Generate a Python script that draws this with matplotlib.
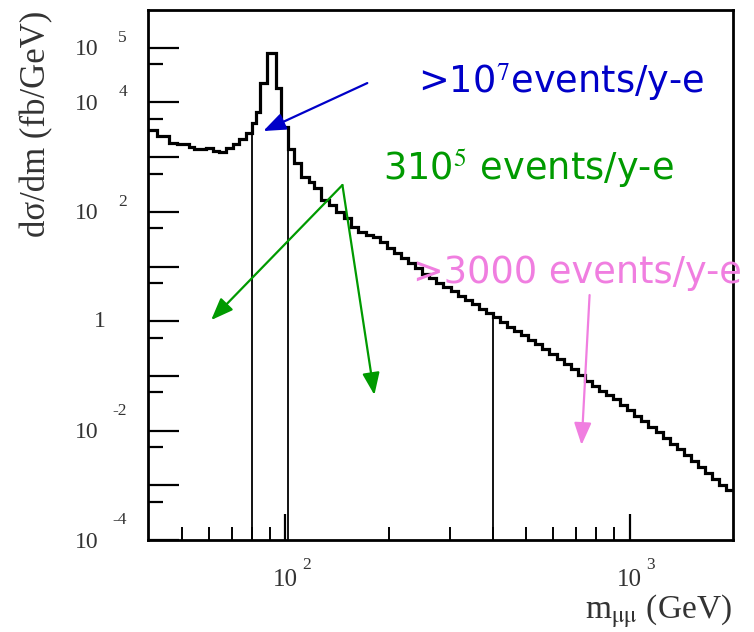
import matplotlib
matplotlib.use("Agg")
import matplotlib.pyplot as plt
from matplotlib import transforms

# mu+mu- invariant mass spectrum: bin edges in GeV, dsigma/dm in fb/GeV
mass_edges = [40.0, 42.5, 46.0, 48.6, 52.6, 54.4, 58.8, 61.5, 64.3, 67.2, 70.3, 73.5, 76.9,
              80.0, 82.2, 84.6, 88.2, 94.0, 97.2, 101.6, 106.2, 111.1, 117.4, 121.4, 127.0,
              134.3, 140.4, 148.4, 155.2, 162.3, 171.7, 179.4,
              188.1, 197.2, 206.7, 216.7, 227.2, 238.2, 249.8, 261.9, 274.5, 287.8, 301.8,
              316.4, 331.7, 347.8, 364.6, 382.2, 400.7, 420.1, 440.5, 461.8, 484.1, 507.6,
              532.1, 557.9, 584.9, 613.2, 642.9, 674.0, 706.6, 740.8, 776.7, 814.3, 853.7,
              895.0, 938.3, 983.7, 1031, 1081, 1134, 1189, 1246, 1307, 1370, 1436, 1506,
              1578, 1655, 1735, 1819, 1907, 2000]
dsigma_dm = [3127, 2432, 1788, 1736, 1530, 1389, 1448, 1309, 1224, 1448, 1736, 2142, 2793,
             4201, 6761, 22920, 81030, 18570, 3505, 1418, 770, 438, 355, 269, 164,
             133, 100, 76, 53.4, 43.3, 37.7,
             34.6, 28.0, 21.8, 17.7, 14.3, 11.6, 9.39, 7.29, 6.16, 4.99, 4.22, 3.56, 2.89,
             2.44, 2.06, 1.67, 1.41, 1.19, 0.967, 0.783, 0.662, 0.560, 0.453, 0.383,
             0.310, 0.251, 0.204, 0.165, 0.134, 0.104, 0.0807, 0.0654, 0.0530, 0.0448,
             0.0378, 0.0294, 0.0238, 0.0185, 0.0150, 0.0116, 0.00943, 0.00732, 0.00569,
             0.00461, 0.00358, 0.00278, 0.00216, 0.00168, 0.00130, 0.00101, 0.00082]

# mass cuts drawn as thin lines
cut_masses = [80.0, 101.6, 400.7]

# tick labels
y_label_vals = [1e5, 1e4, 1e2, 1, 1e-2, 1e-4]
y_label_exps = ["5", "4", "2", None, "-2", "-4"]
x_label_vals = [100, 1000]
x_label_exps = ["2", "3"]

# annotations: text, colour, arrow start, arrow tips
notes = [
    (r">10$^7$events/y-e", "#0000c8", (173.0, 2.26e4), [(86.3, 3.0e3)]),
    (r"310$^5$ events/y-e", "#009a00", (146.5, 309.0), [(60.9, 1.05), (181.4, 0.0448)]),
    (">3000 events/y-e", "#f07ee0", (765.0, 3.01), [(725.0, 5.46e-3)]),
]
note_pos = [(418, 93), (383, 180), (413, 283)]  # left / baseline in pixels

W, H = 754, 632
plt.rcParams["mathtext.fontset"] = "stix"
fig = plt.figure(figsize=(W / 100, H / 100), dpi=100)
ax = fig.add_axes([148.3 / W, 1 - 540 / H, (733.3 - 148.3) / W, (540 - 10) / H])
ax.set_xscale("log")
ax.set_yscale("log")

ax.stairs(dsigma_dm, mass_edges, baseline=None, color="black", lw=2.3, zorder=3)

def height_at(m):
    for i in range(len(dsigma_dm)):
        if mass_edges[i] <= m < mass_edges[i + 1]:
            left = dsigma_dm[i - 1] if i > 0 else dsigma_dm[i]
            return max(left, dsigma_dm[i])
    return dsigma_dm[-1]

ax.vlines(cut_masses, 1e-4, [height_at(m) for m in cut_masses],
          color="black", lw=1.3, zorder=2)

for s in ax.spines.values():
    s.set_linewidth(2.0)

# ticks pointing inward, long for decades and short for the 5x values
decades = [10.0 ** k for k in range(-4, 6)]
halves = [5 * 10.0 ** k for k in range(-4, 5)]
ax.set_yticks(decades)
ax.set_yticks(halves, minor=True)
ax.set_xticks([100, 1000])
ax.set_xticks([m * 10 ** k for k in (1, 2) for m in range(2, 10) if 40 < m * 10 ** k < 2000],
              minor=True)
ax.set_xlim(40, 2000)
ax.set_ylim(1e-4, 4.9e5)
ax.tick_params(which="both", direction="in", labelleft=False, labelbottom=False,
               top=False, right=False, color="black")
ax.tick_params(axis="y", which="major", length=22, width=1.6)
ax.tick_params(axis="y", which="minor", length=11, width=1.6)
ax.tick_params(axis="x", which="major", length=19, width=1.6)
ax.tick_params(axis="x", which="minor", length=9.5, width=1.4)

serif = "Liberation Serif"
lab_col = "#333333"
ytf = transforms.blended_transform_factory(fig.transFigure, ax.transData)
for v, e in zip(y_label_vals, y_label_exps):
    if e is None:
        ax.text(106 / W, v, "1", transform=ytf, ha="right", va="center",
                fontsize=17, family=serif, color=lab_col)
        continue
    ax.text(99 / W, v, "10", ha="right", va="center", fontsize=17, family=serif,
            color=lab_col, transform=transforms.offset_copy(ytf, fig, y=-2, units="dots"))
    dy = 20 if e.startswith("-") else 10
    ax.text(127 / W, v, e, ha="right", va="center", fontsize=12.5, family=serif,
            color=lab_col, transform=transforms.offset_copy(ytf, fig, y=dy, units="dots"))

xtf = transforms.blended_transform_factory(ax.transData, fig.transFigure)
for v, e in zip(x_label_vals, x_label_exps):
    ax.text(v, 1 - 580 / H, "10", ha="center", va="center", fontsize=18, family=serif,
            color=lab_col, transform=xtf)
    ax.text(v, 1 - 565 / H, e, ha="left", va="center", fontsize=12.5, family=serif,
            color=lab_col, transform=transforms.offset_copy(xtf, fig, x=17, units="dots"))

fig.text(37 / W, 1 - 124 / H, "dσ/dm (fb/GeV)", rotation=90, ha="center", va="center",
         fontsize=25, family=serif, color=lab_col)
fig.text(732 / W, 1 - 619 / H, r"m$_{\mathrm{μμ}}$ (GeV)", ha="right", va="baseline",
         fontsize=24, family=serif, color=lab_col)

for (txt, col, start, tips), (px, py) in zip(notes, note_pos):
    for tip in tips:
        ax.annotate("", xy=tip, xytext=start,
                    arrowprops=dict(arrowstyle="-|>,head_length=0.9,head_width=0.35",
                                    color=col, lw=1.6, shrinkA=0, shrinkB=0,
                                    mutation_scale=15), zorder=4)
    fig.text(px / W, 1 - py / H, txt, color=col, fontsize=26.5, ha="left",
             va="baseline", family="DejaVu Sans", zorder=5)

fig.savefig("out.png", dpi=100, facecolor="white")
